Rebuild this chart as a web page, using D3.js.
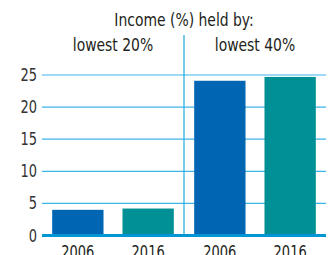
<!DOCTYPE html>
<html>
<head>
<meta charset="utf-8">
<script src="https://cdn.jsdelivr.net/npm/d3@7"></script>
<style>
  html, body { margin: 0; padding: 0; background: #fff; }
  svg text { font-family: "DejaVu Sans Condensed", "DejaVu Sans", sans-serif; fill: #231f20; }
</style>
</head>
<body>
<div id="chart"></div>
<script>
// chart data
var groups = ["lowest 20%", "lowest 40%"];
var years = ["2006", "2016"];
var values = [[4.0, 4.2], [24.1, 24.7]];
var yTicks = [0, 5, 10, 15, 20, 25];
var title = "Income (%) held by:";

var width = 331, height = 255;
var margin = { top: 75, right: 5, bottom: 19.5, left: 42 };

//squeeze text horizontally to mimic a condensed face
function condense(sel, k){
    sel.each(function(){
        var w = this.getComputedTextLength();
        d3.select(this)
            .attr("textLength", w * k)
            .attr("lengthAdjust", "spacingAndGlyphs");
    });
}

var svg = d3.select("#chart").append("svg")
    .attr("width", width)
    .attr("height", height);

var y = d3.scaleLinear()
    .domain([0, 25])
    .range([height - margin.bottom, margin.top]);

// one band per group, then one per year inside
var x0 = d3.scaleBand()
    .domain(groups)
    .range([margin.left, width - margin.right]);

var x1 = d3.scaleBand()
    .domain(years)
    .range([0, x0.bandwidth()])
    .paddingInner(0.27)
    .paddingOuter(0.145);

var colors = d3.scaleOrdinal().domain(years).range(["#0066b3", "#009095"]);

// gridlines
svg.append("g")
    .selectAll("line")
    .data(yTicks.filter(d => d > 0))
    .join("line")
    .attr("x1", margin.left)
    .attr("x2", width - margin.right)
    .attr("y1", d => y(d))
    .attr("y2", d => y(d))
    .attr("stroke", "#3db4e6")
    .attr("stroke-width", 1.2);

// separator between groups
svg.append("line")
    .attr("x1", x0(groups[1]))
    .attr("x2", x0(groups[1]))
    .attr("y1", 35)
    .attr("y2", y(0))
    .attr("stroke", "#1ea9e1")
    .attr("stroke-width", 1.2);

// bars
groups.forEach((g, gi) => {
    svg.append("g")
        .selectAll("rect")
        .data(years)
        .join("rect")
        .attr("x", d => x0(g) + x1(d))
        .attr("y", (d, i) => y(values[gi][i]))
        .attr("width", x1.bandwidth())
        .attr("height", (d, i) => y(0) - y(values[gi][i]))
        .attr("fill", d => colors(d));

    // year labels
    svg.append("g")
        .selectAll("text")
        .data(years)
        .join("text")
        .attr("x", d => x0(g) + x1(d) + x1.bandwidth() / 2)
        .attr("y", 258)
        .attr("text-anchor", "middle")
        .style("font-size", "17px")
        .text(d => d)
        .call(condense, 0.85);

    // group label
    svg.append("text")
        .attr("x", x0(g) + x0.bandwidth() / 2)
        .attr("y", 51)
        .attr("text-anchor", "middle")
        .style("font-size", "18px")
        .text(g)
        .call(condense, 0.86);
});

// zero baseline
svg.append("line")
    .attr("x1", margin.left)
    .attr("x2", width - margin.right)
    .attr("y1", y(0))
    .attr("y2", y(0))
    .attr("stroke", "#0096d6")
    .attr("stroke-width", 3);

// y tick labels
svg.append("g")
    .selectAll("text")
    .data(yTicks)
    .join("text")
    .attr("x", 37)
    .attr("y", d => y(d) + 6)
    .attr("text-anchor", "end")
    .style("font-size", "17px")
    .style("fill", "#333")
    .text(d => d)
    .call(condense, 0.85);

// title
svg.append("text")
    .attr("x", 184)
    .attr("y", 26)
    .attr("text-anchor", "middle")
    .style("font-size", "18px")
    .text(title)
    .call(condense, 0.86);
</script>
</body>
</html>
